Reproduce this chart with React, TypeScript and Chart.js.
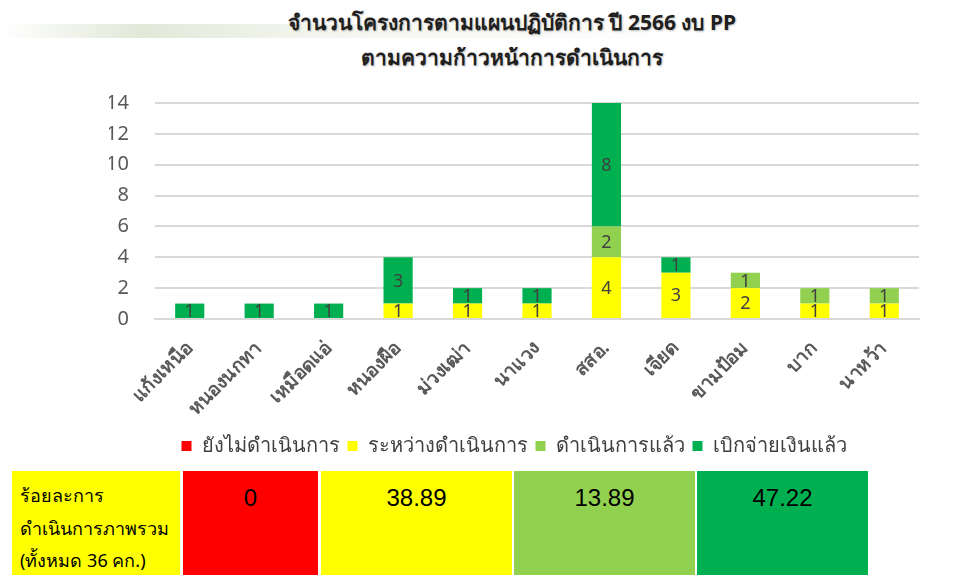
import React, { useEffect, useRef } from "react";
import { Chart, registerables } from "chart.js";

Chart.register(...registerables);

const categories = [
  "แก้งเหนือ",
  "หนองนกทา",
  "เหมือดแอ่",
  "หนองผือ",
  "ม่วงเฒ่า",
  "นาแวง",
  "สสอ.",
  "เจียด",
  "ขามป้อม",
  "บาก",
  "นาหว้า",
];
const notStarted = [0, 0, 0, 0, 0, 0, 0, 0, 0, 0, 0];
const inProgress = [0, 0, 0, 1, 1, 1, 4, 3, 2, 1, 1];
const completed = [0, 0, 0, 0, 0, 0, 2, 0, 1, 1, 1];
const disbursed = [1, 1, 1, 3, 1, 1, 8, 1, 0, 0, 0];
const seriesNames = ["ยังไม่ดำเนินการ", "ระหว่างดำเนินการ", "ดำเนินการแล้ว", "เบิกจ่ายเงินแล้ว"];
const seriesColors = ["#FF0000", "#FFFF00", "#92D050", "#00B050"];
const summaryValues = ["0", "38.89", "13.89", "47.22"];
const summaryTitle = ["ร้อยละการ", "ดำเนินการภาพรวม", "(ทั้งหมด 36 คก.)"];
const titleLines = ["จำนวนโครงการตามแผนปฏิบัติการ ปี 2566 งบ PP", "ตามความก้าวหน้าการดำเนินการ"];

const FONT = "'Noto Sans', 'Liberation Sans', sans-serif";

const valueLabels = {
  id: "valueLabels",
  afterDatasetsDraw(chart: any) {
    const ctx = chart.ctx;
    ctx.save();
    ctx.font = `18px ${FONT}`;
    ctx.fillStyle = "#404040";
    ctx.textAlign = "center";
    ctx.textBaseline = "middle";
    chart.data.datasets.forEach((ds: any, di: number) => {
      const meta = chart.getDatasetMeta(di);
      meta.data.forEach((el: any, i: number) => {
        const v = ds.data[i];
        if (!v) return;
        const { x, y, base } = el.getProps(["x", "y", "base"], true);
        ctx.fillText(String(v), x, (y + base) / 2 + 1);
      });
    });
    ctx.restore();
  },
};

function ChartView() {
  const ref = useRef<HTMLCanvasElement>(null);
  useEffect(() => {
    if (!ref.current) return;
    const data = [notStarted, inProgress, completed, disbursed];
    const chart = new Chart(ref.current, {
      type: "bar",
      data: {
        labels: categories,
        datasets: data.map((d, i) => ({
          label: seriesNames[i],
          data: d,
          backgroundColor: seriesColors[i],
          borderWidth: 0,
          categoryPercentage: 1,
          barPercentage: 0.42,
        })),
      },
      options: {
        animation: false,
        responsive: false,
        maintainAspectRatio: false,
        layout: { padding: { top: 17, right: 36, left: 109, bottom: 0 } },
        plugins: {
          tooltip: { enabled: false },
          title: { display: false },
          legend: {
            position: "bottom",
            labels: {
              boxWidth: 10,
              boxHeight: 10,
              padding: 8,
              color: "#404040",
              font: { size: 20, family: FONT },
            },
          },
        },
        scales: {
          x: {
            stacked: true,
            grid: { display: false },
            border: { display: true, color: "#D9D9D9", width: 2 },
            ticks: {
              maxRotation: 45,
              minRotation: 45,
              color: "#595959",
              padding: 10,
              font: { size: 19, weight: "bold", family: FONT },
            },
            afterFit: (s: any) => {
              s.height = 109;
            },
          },
          y: {
            stacked: true,
            min: 0,
            max: 14,
            ticks: {
              stepSize: 2,
              color: "#595959",
              padding: 26,
              font: { size: 20, family: FONT },
            },
            grid: { color: "#D9D9D9", lineWidth: 2, drawTicks: false },
            border: { display: false },
            afterFit: (s: any) => {
              s.width = 46;
            },
          },
        },
      },
      plugins: [valueLabels],
    });
    return () => chart.destroy();
  }, []);
  return (
    <canvas
      ref={ref}
      width={955}
      height={401}
      style={{ position: "absolute", left: 0, top: 65, width: 955, height: 401 }}
    />
  );
}

export default function App() {
  const cells = [
    { left: 183, width: 135, color: "#FF0000" },
    { left: 321, width: 191, color: "#FFFF00" },
    { left: 514, width: 181, color: "#92D050" },
    { left: 697, width: 171, color: "#00B050" },
  ];
  return (
    <div
      style={{
        position: "absolute",
        left: 0,
        top: 0,
        width: 955,
        height: 576,
        background: "#FFFFFF",
        overflow: "hidden",
        fontFamily: FONT,
      }}
    >
      <div
        style={{
          position: "absolute",
          left: 0,
          top: 24,
          width: 700,
          height: 14,
          background:
            "linear-gradient(90deg, rgba(190,205,170,0.0) 0%, rgba(190,205,170,0.45) 20%, rgba(215,225,200,0.3) 45%, rgba(255,255,255,0) 100%)",
        }}
      />
      {titleLines.map((t, i) => (
        <div
          key={i}
          style={{
            position: "absolute",
            left: 0,
            width: 1024,
            top: 8 + i * 35,
            textAlign: "center",
            fontSize: 21,
            fontWeight: "bold",
            lineHeight: "28px",
            color: "#1F1F1F",
            textShadow: "1px 1px 2px rgba(0,0,0,0.25)",
          }}
        >
          {t}
        </div>
      ))}
      <ChartView />
      <div
        style={{
          position: "absolute",
          left: 12,
          top: 471,
          width: 168,
          height: 104,
          background: "#FFFF00",
          boxSizing: "border-box",
          paddingLeft: 8,
          paddingTop: 8,
          fontSize: 18,
          lineHeight: "32.5px",
          color: "#000",
        }}
      >
        {summaryTitle.map((t, i) => (
          <div key={i} style={{ whiteSpace: "nowrap" }}>
            {t}
          </div>
        ))}
      </div>
      {cells.map((c, i) => (
        <div
          key={i}
          style={{
            position: "absolute",
            left: c.left,
            top: 471,
            width: c.width,
            height: 104,
            background: c.color,
            boxSizing: "border-box",
            paddingTop: 15,
            textAlign: "center",
            fontFamily: "'Liberation Sans', Arial, sans-serif",
            fontSize: 24,
            lineHeight: "24px",
            color: "#000",
          }}
        >
          {summaryValues[i]}
        </div>
      ))}
    </div>
  );
}
